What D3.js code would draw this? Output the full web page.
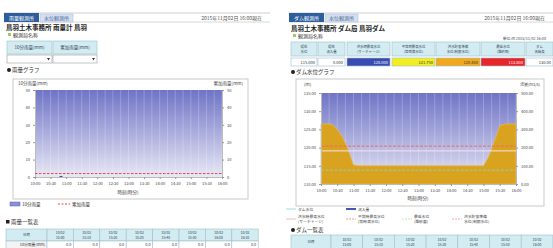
<!DOCTYPE html>
<html>
<head>
<meta charset="utf-8">
<script src="https://cdn.jsdelivr.net/npm/d3@7"></script>
<style>
html, body { margin: 0; padding: 0; background: #fff; }
svg { display: block; font-family: "Noto Sans CJK JP", "Noto Sans", sans-serif; }
</style>
</head>
<body>
<svg id="page" width="553" height="248"></svg>
<script>
// ---- data ----
var timeLabels = ['10:00','10:30','11:00','11:30','12:00','12:30','13:00','13:30','14:00','14:30','15:00','15:30','16:00'];
// 10分雨量 (mm) 10分毎 37点
var rain10 = [0,0,0,0,0,0.6,0,0,0,0,0,0,0,0,0,0,0,0,0,0,0,0,0,0,0,0,0,0,0,0,0,0,0,0,0,0,0];
// 累加雨量 (mm)
var rainSum = [2,2,2,2,2,2,2,2,2,2,2,2,2,2,2,2,2,2,2,2,2,2,2,2,2,2,2,2,2,2,2,2,2,2,2,2,2];
var rainTicks = [0,10,20,30,40,50];

// ダム水位 (m)
var damLevel = [126.5,126.5,126.4,125.0,122.8,119.5,115.2,115.0,115.0,115.0,115.0,115.0,115.0,115.0,115.0,115.0,115.0,115.0,115.0,
  115.0,115.0,115.0,115.0,115.0,115.0,115.0,115.0,115.0,115.0,115.0,115.0,117.6,121.7,126.0,126.5,126.5,126.5];
var levelTicks = [110,115,120,125,130,135];
var flowTicks = [0,100,200,300,400,500];
var thresholds = [
  {name:'洪水時最高水位', value:120.4, color:'#e86a6a', dash:'3,1.5'},
  {name:'平常時最高水位', value:119.1, color:'#f4e4ee', dash:null},
  {name:'最低水位', value:113.8, color:'#8fd0b8', dash:'3,1.5'}
];

var rainTableHead = ['日時','10/02\n15:00','10/02\n15:10','10/02\n15:20','10/02\n15:30','10/02\n15:40','10/02\n15:50','10/02\n16:00','10/02\n16:10'];
var rainTableRow = ['10分雨量(mm)','0.0','0.0','0.0','0.0','0.0','0.0','0.0','0.0'];
var damTableHead = ['現在\n水位','現在\n流入量','洪水時最高水位\n(サーチャージ)','平常時最高水位\n(常時満水位)','洪水貯留準備\n水位(制限水位)','最低水位\n(堆砂面)','ダム\n天端高'];
var damTableRow = ['115.000','0.000','128.000','121.750','120.400','113.800','130.00'];
var damCellColors = ['#ffffff','#ffffff','#3a4cb2','#f2ee24','#f2a81c','#e6262a','#ffffff'];
var damListHead = ['日時','10/02\n15:00','10/02\n15:10','10/02\n15:20','10/02\n15:30','10/02\n15:40','10/02\n15:50','10/02\n16:00'];

var svg = d3.select('#page');
var defs = svg.append('defs');
var grad = defs.append('linearGradient').attr('id', 'bg').attr('x1', 0).attr('y1', 0).attr('x2', 0).attr('y2', 1);
grad.append('stop').attr('offset', '0%').attr('stop-color', '#6f74c6');
grad.append('stop').attr('offset', '100%').attr('stop-color', '#e8e8f4');

function txt(g, x, y, s, size, opt) {
  opt = opt || {};
  var t = g.append('text').attr('x', x).attr('y', y)
    .attr('font-size', size).attr('fill', opt.fill || '#333')
    .attr('text-anchor', opt.anchor || 'start')
    .attr('font-weight', opt.bold ? 'bold' : 'normal');
  var lines = s.split('\n');
  if (lines.length === 1) { t.text(s); return t; }
  var lh = opt.lh || 1.4;
  lines.forEach(function (l, i) {
    t.append('tspan').attr('x', x).attr('dy', i === 0 ? -(lines.length - 1) * size * lh / 2 : size * lh).text(l);
  });
  return t;
}

function header(g, x0, x1, tab1, tab2, date) {
  g.append('line').attr('x1', x0).attr('x2', x1).attr('y1', 13).attr('y2', 13).attr('stroke', '#cfcfcf');
  g.append('line').attr('x1', x0).attr('x2', x1).attr('y1', 22).attr('y2', 22).attr('stroke', '#d8d8d8');
  g.append('rect').attr('x', x0).attr('y', 13).attr('width', 35).attr('height', 9).attr('fill', '#2d5d9c');
  txt(g, x0 + 17.5, 20, tab1, 5, {anchor: 'middle', fill: '#fff'});
  g.append('rect').attr('x', x0 + 36).attr('y', 14).attr('width', 33).attr('height', 8).attr('fill', '#d4e0f0').attr('stroke', '#aabbd6').attr('stroke-width', 0.5);
  txt(g, x0 + 52.5, 20, tab2, 5, {anchor: 'middle', fill: '#4a6a9a'});
  txt(g, x1 - 8, 19.5, date, 5, {anchor: 'end', fill: '#555'});
}

function table(g, cols, y, h, texts, fills, size, anchor) {
  cols.forEach(function (c, i) {
    g.append('rect').attr('x', c[0]).attr('y', y).attr('width', c[1] - c[0]).attr('height', h)
      .attr('fill', fills[i]).attr('stroke', '#9fbfcc').attr('stroke-width', 0.6);
    if (texts[i] != null) {
      if (anchor === 'end') txt(g, c[1] - 2, y + h / 2 + size * 0.38, texts[i], size, {anchor: 'end', fill: fills[i] === '#3a4cb2' || fills[i] === '#e6262a' ? '#fff' : '#333'});
      else txt(g, (c[0] + c[1]) / 2, y + h / 2 + size * 0.38, texts[i], size, {anchor: 'middle', fill: '#345'});
    }
  });
}

// ================= left panel : 雨量 =================
var L = svg.append('g');
header(L, 4, 270, '雨量観測所', '水位観測所', '2015年11月02日 16:00現在');
txt(L, 6, 30, '鳥羽土木事務所 雨量計 鳥羽', 6.5, {bold: true, fill: '#222'});
L.append('rect').attr('x', 8).attr('y', 33).attr('width', 3).attr('height', 3).attr('fill', '#9c6');
txt(L, 13, 37, '観測局名称', 5, {fill: '#333'});
table(L, [[7, 52], [53, 97]], 41, 13, ['10分雨量(mm)', '累加雨量(mm)'], ['#d2ecf2', '#d2ecf2'], 4.5);
[[7, 52], [53, 97]].forEach(function (c) {
  L.append('rect').attr('x', c[0]).attr('y', 55).attr('width', c[1] - c[0]).attr('height', 8).attr('fill', '#fff').attr('stroke', '#999').attr('stroke-width', 0.6);
  L.append('path').attr('d', 'M' + (c[1] - 5) + ',58 l3,0 l-1.5,2.5z').attr('fill', '#333');
});
L.append('circle').attr('cx', 9).attr('cy', 70).attr('r', 2).attr('fill', '#222');
txt(L, 12, 72, '雨量グラフ', 5.5, {fill: '#333'});

// chart box
L.append('rect').attr('x', 13).attr('y', 79).attr('width', 235).attr('height', 120).attr('fill', '#fff').attr('stroke', '#c9c9c9');
var lx = d3.scaleLinear().domain([0, rain10.length - 1]).range([35, 222]);
var ly = d3.scaleLinear().domain([0, 50]).range([177, 90]);
L.append('rect').attr('x', 35).attr('y', 90).attr('width', 187).attr('height', 87).attr('fill', 'url(#bg)');
L.append('g').selectAll('line').data(d3.range(0, rain10.length, 1.5)).join('line')
  .attr('x1', function (d) { return lx(d); }).attr('x2', function (d) { return lx(d); })
  .attr('y1', 90).attr('y2', 177).attr('stroke', '#fff').attr('stroke-opacity', 0.22);
var lyAxis = L.append('g').attr('transform', 'translate(35,0)')
  .call(d3.axisLeft(ly).tickValues(rainTicks).tickSize(2).tickPadding(3));
var ryAxis = L.append('g').attr('transform', 'translate(222,0)')
  .call(d3.axisRight(ly).tickValues(rainTicks).tickSize(2).tickPadding(3));
var lxAxis = L.append('g').attr('transform', 'translate(0,177)')
  .call(d3.axisBottom(lx).tickValues(d3.range(0, rain10.length, 3)).tickFormat(function (d, i) { return timeLabels[i]; }).tickSize(2).tickPadding(3));
[lyAxis, ryAxis, lxAxis].forEach(function (a) {
  a.select('.domain').attr('stroke', '#bbb');
  a.selectAll('.tick line').attr('stroke', '#999');
  a.selectAll('text').attr('font-size', 4).attr('fill', '#444').attr('font-family', 'Noto Sans CJK JP');
});
L.selectAll('.rainbar').data(rain10).join('rect').attr('class', 'rainbar')
  .attr('x', function (d, i) { return lx(i) - 1.5; }).attr('width', 3)
  .attr('y', function (d) { return ly(d); }).attr('height', function (d) { return 177 - ly(d); })
  .attr('fill', '#3a4aa8');
L.append('path').datum(rainSum).attr('fill', 'none').attr('stroke', '#e5484a').attr('stroke-width', 1)
  .attr('stroke-dasharray', '2.5,1.5')
  .attr('d', d3.line().x(function (d, i) { return lx(i); }).y(function (d) { return ly(d); }));
txt(L, 18, 84.5, '10分雨量(mm)', 4.5, {fill: '#444'});
txt(L, 243, 84.5, '累加雨量(mm)', 4.5, {fill: '#444', anchor: 'end'});
txt(L, 128, 194, '時刻(時分)', 4.5, {fill: '#333', anchor: 'middle'});
// legend
L.append('rect').attr('x', 10).attr('y', 202).attr('width', 10).attr('height', 4).attr('fill', '#8a90d6').attr('stroke', '#5a62b8').attr('stroke-width', 0.5);
txt(L, 22, 206, '10分雨量', 4.5, {fill: '#333'});
L.append('line').attr('x1', 58).attr('x2', 70).attr('y1', 204).attr('y2', 204).attr('stroke', '#e5484a').attr('stroke-dasharray', '2,1.5');
txt(L, 72, 206, '累加雨量', 4.5, {fill: '#333'});
L.append('rect').attr('x', 6).attr('y', 220).attr('width', 3.5).attr('height', 3.5).attr('fill', '#222');
txt(L, 11, 224, '雨量一覧表', 5.5, {fill: '#333'});
var rcols = [[6, 47]];
for (var i = 0; i < 8; i++) rcols.push([47 + i * 26.4, 47 + (i + 1) * 26.4]);
table(L, rcols, 229, 12, rainTableHead, rcols.map(function () { return '#d2ecf2'; }), 3.4);
table(L, rcols, 241, 8, rainTableRow, rcols.map(function (c, i) { return i === 0 ? '#f4f4f4' : '#fff'; }), 3.8, 'end');

// ================= right panel : ダム =================
var R = svg.append('g');
header(R, 289, 553, 'ダム観測所', '水位観測所', '2015年11月02日 16:00現在');
txt(R, 291, 31, '鳥羽土木事務所 ダム局 鳥羽ダム', 6.5, {bold: true, fill: '#222'});
R.append('rect').attr('x', 293).attr('y', 34).attr('width', 3).attr('height', 3).attr('fill', '#9c6');
txt(R, 298, 38, '観測局名称', 5, {fill: '#333'});
txt(R, 546, 40, '単位:m 2015/11/02 16:00', 3.8, {fill: '#444', anchor: 'end'});
var dcols = [[291, 317], [318, 345], [347, 390], [392, 435], [436, 480], [481, 525], [526, 553]];
table(R, dcols, 42, 14, damTableHead, dcols.map(function () { return '#d2ecf2'; }), 3.4);
table(R, dcols, 58, 8, damTableRow, damCellColors, 4, 'end');
R.append('circle').attr('cx', 293).attr('cy', 72).attr('r', 2).attr('fill', '#222');
txt(R, 296, 74, 'ダム水位グラフ', 5.5, {fill: '#333'});

R.append('rect').attr('x', 296).attr('y', 79).attr('width', 248).attr('height', 127).attr('fill', '#fff').attr('stroke', '#c9c9c9');
var dx = d3.scaleLinear().domain([0, damLevel.length - 1]).range([321, 516]);
var dy = d3.scaleLinear().domain([110, 135]).range([184, 93]);
var fy = d3.scaleLinear().domain([0, 500]).range([184, 93]);
R.append('rect').attr('x', 321).attr('y', 93).attr('width', 195).attr('height', 91).attr('fill', 'url(#bg)');
R.append('g').selectAll('line').data(d3.range(0, damLevel.length, 1.5)).join('line')
  .attr('x1', function (d) { return dx(d); }).attr('x2', function (d) { return dx(d); })
  .attr('y1', 93).attr('y2', 184).attr('stroke', '#fff').attr('stroke-opacity', 0.22);
R.append('path').datum(damLevel).attr('fill', '#d9a21f').attr('stroke', '#e8b84a').attr('stroke-width', 0.8)
  .attr('d', d3.area().x(function (d, i) { return dx(i); }).y0(184).y1(function (d) { return dy(d); }));
R.selectAll('.thr').data(thresholds).join('line').attr('class', 'thr')
  .attr('x1', 321).attr('x2', 516)
  .attr('y1', function (d) { return dy(d.value); }).attr('y2', function (d) { return dy(d.value); })
  .attr('stroke', function (d) { return d.color; }).attr('stroke-width', 1)
  .attr('stroke-dasharray', function (d) { return d.dash; });
var dyAxis = R.append('g').attr('transform', 'translate(321,0)')
  .call(d3.axisLeft(dy).tickValues(levelTicks).tickFormat(d3.format('.2f')).tickSize(2).tickPadding(3));
var fyAxis = R.append('g').attr('transform', 'translate(516,0)')
  .call(d3.axisRight(fy).tickValues(flowTicks).tickFormat(d3.format('.2f')).tickSize(2).tickPadding(3));
var dxAxis = R.append('g').attr('transform', 'translate(0,184)')
  .call(d3.axisBottom(dx).tickValues(d3.range(0, damLevel.length, 3)).tickFormat(function (d, i) { return timeLabels[i]; }).tickSize(2).tickPadding(3));
[dyAxis, fyAxis, dxAxis].forEach(function (a) {
  a.select('.domain').attr('stroke', '#bbb');
  a.selectAll('.tick line').attr('stroke', '#999');
  a.selectAll('text').attr('font-size', 4).attr('fill', '#444').attr('font-family', 'Noto Sans CJK JP');
});
txt(R, 304, 86, '(m)', 4.5, {fill: '#444'});
txt(R, 540, 86, '流量(m3/s)', 4, {fill: '#444', anchor: 'end'});
txt(R, 418, 200, '時刻(時分)', 4.5, {fill: '#333', anchor: 'middle'});
// legend
var lg = [
  {x: 286, y: 209, c: '#bfe6f2', w: 1.5, dash: null, t: 'ダム水位'},
  {x: 346, y: 209, c: '#4656c0', w: 2, dash: null, t: '流入量'},
  {x: 286, y: 219, c: '#f0b8c8', w: 1, dash: null, t: '洪水時最高水位\n(サーチャージ)'},
  {x: 346, y: 219, c: '#e0a0b0', w: 1, dash: '2,1', t: '平常時最高水位\n(常時満水位)'},
  {x: 402, y: 219, c: '#c8e0c0', w: 1, dash: '2,1', t: '最低水位\n(堆砂面)'},
  {x: 452, y: 219, c: '#f0a8b8', w: 1, dash: '2,1', t: '洪水貯留準備\n水位(制限水位)'}
];
lg.forEach(function (d) {
  R.append('line').attr('x1', d.x).attr('x2', d.x + 10).attr('y1', d.y).attr('y2', d.y)
    .attr('stroke', d.c).attr('stroke-width', d.w).attr('stroke-dasharray', d.dash);
  txt(R, d.x + 12, d.y + 1.5, d.t, 3.8, {fill: '#444'});
});
R.append('circle').attr('cx', 293).attr('cy', 230).attr('r', 2).attr('fill', '#222');
txt(R, 296, 232, 'ダム一覧表', 5.5, {fill: '#333'});
var lcols = [[291, 331]];
for (var j = 0; j < 7; j++) lcols.push([331 + j * 31.7, 331 + (j + 1) * 31.7]);
table(R, lcols, 235, 14, damListHead, lcols.map(function () { return '#d2ecf2'; }), 3.4);
</script>
</body>
</html>
